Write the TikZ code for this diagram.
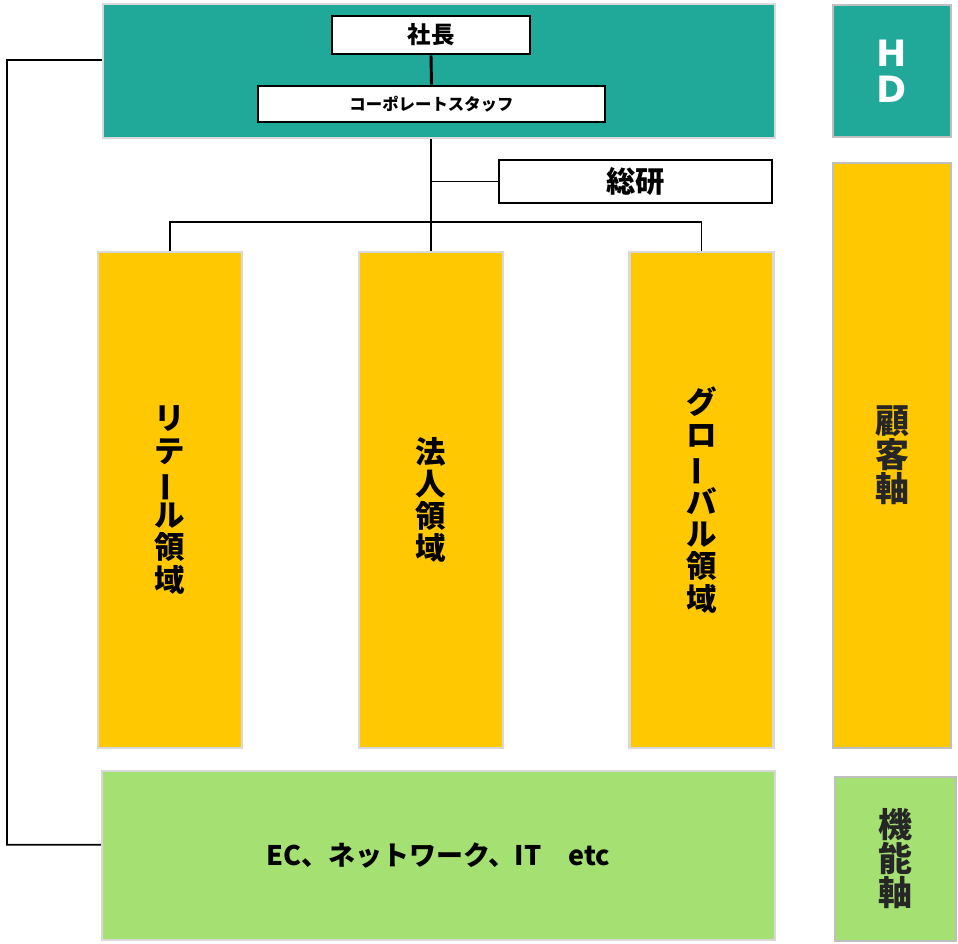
\documentclass[tikz,border=0pt]{standalone}
\usepackage{fontspec}
\usepackage{graphicx}
\usepackage{tikz}
\newfontfamily\jpfont{Noto Sans CJK JP}
\newfontfamily\hdfont{DejaVu Sans}
\definecolor{hdteal}{RGB}{32,168,153}
\definecolor{areagold}{RGB}{255,200,0}
\definecolor{funcgreen}{RGB}{165,224,114}
\definecolor{axisgray}{RGB}{38,38,38}
\newcommand{\tatebar}{\rotatebox[origin=c]{90}{ー}}

\begin{document}
\begin{tikzpicture}[
    every node/.style={inner sep=0pt, font=\jpfont\bfseries},
    panel/.style={draw=gray!30, line width=2pt},
    axispanel/.style={draw=gray!50, line width=1.5pt, minimum width=3.54cm, align=center},
    whitebox/.style={draw=black, line width=2.2pt, fill=white},
    areabox/.style={panel, fill=areagold, minimum width=4.32cm, minimum height=14.88cm, align=center,
      font=\jpfont\bfseries\fontsize{26}{27.5}\selectfont},
    axistext/.style={text=axisgray, font=\jpfont\bfseries\fontsize{29}{29}\selectfont},
    wire/.style={line width=1.5pt}
  ]
    \useasboundingbox (0,0) rectangle (28.74,-28.32);

    % holding company
    \node[panel, fill=hdteal, minimum width=20.16cm, minimum height=4.02cm] (hd) at (13.17,-2.13) {};
    \node[whitebox, minimum width=5.94cm, minimum height=1.14cm,
      font=\jpfont\bfseries\fontsize{20}{24}\selectfont] (shacho) at (12.93,-1.05) {社長};
    \node[whitebox, minimum width=10.41cm, minimum height=1.08cm,
      font=\jpfont\bfseries\fontsize{14}{17}\selectfont] (staff) at (12.945,-3.12) {コーポレートスタッフ};
    \node[whitebox, minimum width=8.19cm, minimum height=1.29cm,
      font=\jpfont\bfseries\fontsize{25}{30}\selectfont] (soken) at (19.065,-5.445) {総研};

    % customer areas
    \node[areabox] (retail) at (5.1,-15.0) {リ\\テ\\\tatebar\\ル\\領\\域};
    \node[areabox] (hojin) at (12.93,-15.0) {法\\人\\領\\域};
    \node[areabox] (global) at (21.045,-15.0) {グ\\ロ\\\tatebar\\バ\\ル\\領\\域};

    % functions
    \node[panel, fill=funcgreen, minimum width=20.19cm, minimum height=5.07cm,
      font=\jpfont\bfseries\fontsize{23}{28}\selectfont] (func) at (13.155,-25.665) {EC、ネットワーク、IT　etc};

    % axis labels
    \node[axispanel, fill=hdteal, minimum height=3.96cm, text=white,
      font=\hdfont\bfseries\fontsize{31}{31}\selectfont] (hdlab) at (26.76,-2.13) {H\\D};
    \node[axispanel, axistext, fill=areagold, minimum height=17.55cm] (kokyaku) at (26.76,-13.665) {顧\\客\\軸};
    \node[axispanel, axistext, fill=funcgreen, minimum width=3.63cm, minimum height=4.92cm] (kinou) at (26.865,-25.77) {機\\能\\軸};

    \coordinate (bus) at (12.93,-6.66);
    \coordinate (corner) at (0.21,-1.8);
    \draw[wire, line width=2.5pt] (shacho.south) -- (staff.north);
    \draw[wire] (hd.south -| hojin.north) -- (hojin.north);
    \draw[wire] (soken.west -| hojin.north) -- (soken.west);
    \draw[wire] (retail.north) -- (retail.north |- bus) -- (global.north |- bus) -- (global.north);
    \draw[wire] ([yshift=3.3mm]hd.west) -- (corner) |- ([yshift=3.2mm]func.west);
\end{tikzpicture}
\end{document}
